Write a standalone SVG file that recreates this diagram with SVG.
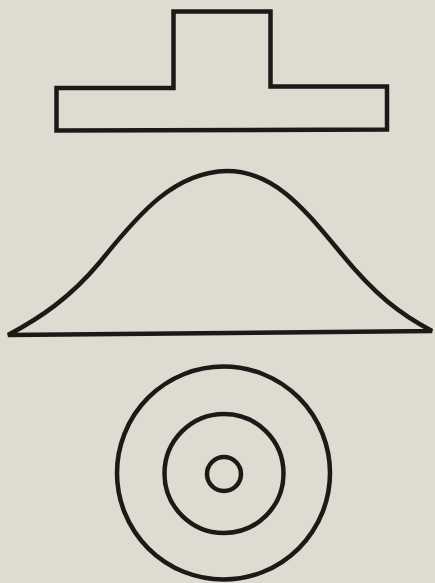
<svg xmlns="http://www.w3.org/2000/svg" width="435" height="583" viewBox="0 0 435 583">
<style>
.s{fill:none;stroke:#1b1a17;stroke-width:4.5;stroke-linejoin:miter}
</style>
<rect width="435" height="583" fill="#dedbd1"/>
<g id="t-shape">
<path class="s" d="M173.5,11.5 L270.5,11.5 L270.5,86.5 L387,86.5 L387,129.5 L56.5,130.5 L56.5,88 L173.5,88 Z"/>
</g>
<g id="bell">
<path class="s" stroke-width="4.5" d="M8,335 C40,318 70,298 100,262 C140,212 175,172 227,171 C275,171 305,210 340,252 C375,295 400,314 432,331 Z"/>
</g>
<g id="circles">
<circle class="s" cx="223.5" cy="473" r="106.5" stroke-width="4"/>
<circle class="s" cx="224" cy="473.5" r="59.5" stroke-width="4"/>
<circle class="s" cx="224" cy="474" r="17" stroke-width="3"/>
</g>
</svg>
